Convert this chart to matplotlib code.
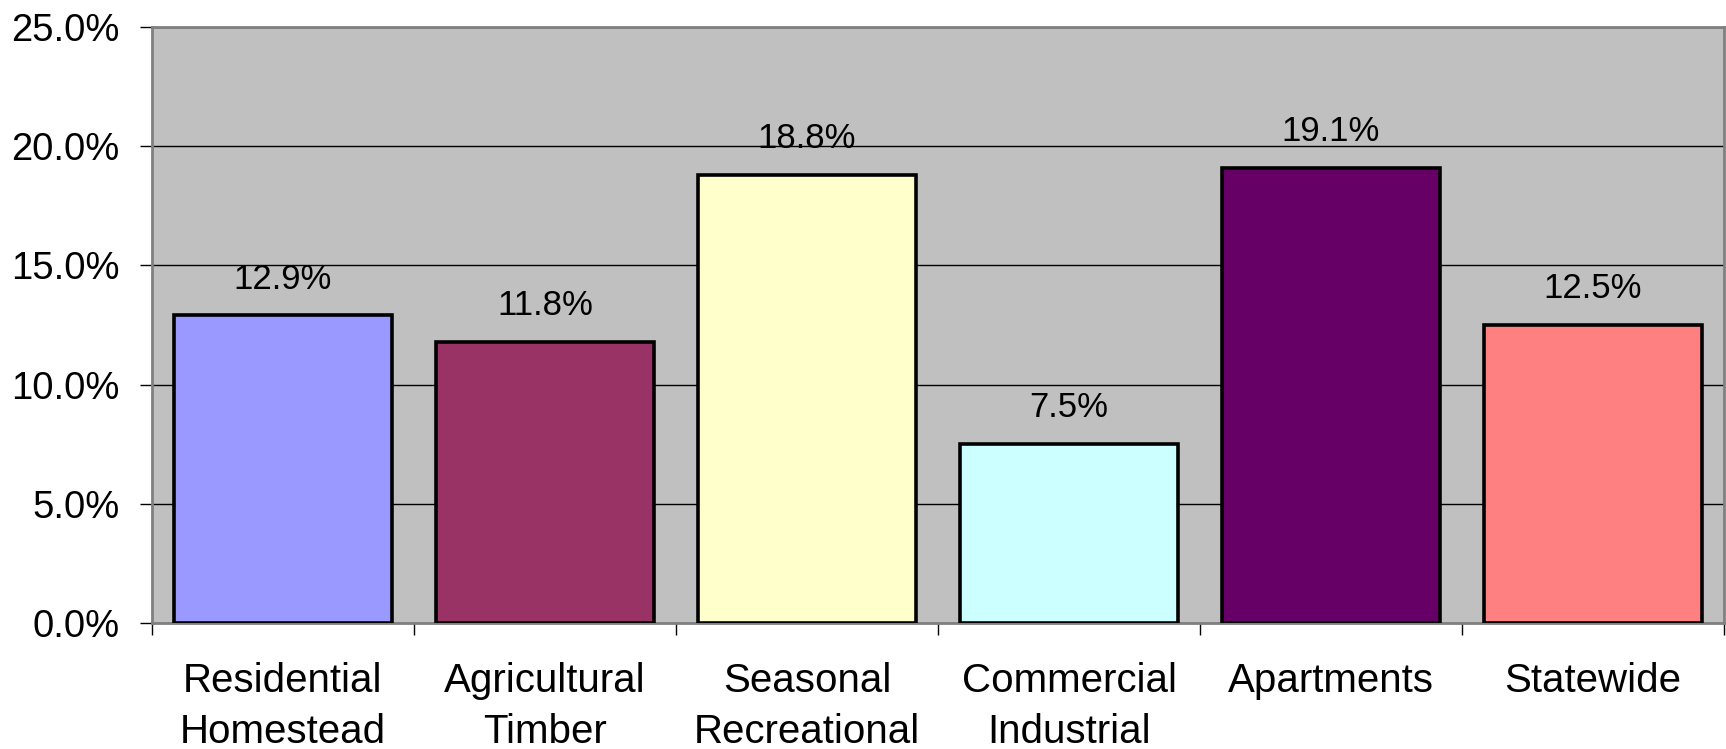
import matplotlib.pyplot as plt
import numpy as np

# Datos
categorias = ['Residential\nHomestead', 'Agricultural\nTimber', 'Seasonal\nRecreational',
              'Commercial\nIndustrial', 'Apartments', 'Statewide']
valores = [12.9, 11.8, 18.8, 7.5, 19.1, 12.5]
colores = ['#9999FF', '#993366', '#FFFFCC', '#CCFFFF', '#660066', '#FF8080']
yticks = [0, 5, 10, 15, 20, 25]

plt.rcParams['font.family'] = ['Liberation Sans', 'DejaVu Sans']

fig = plt.figure(figsize=(17.26, 7.49), dpi=100)
ax = fig.add_axes([152 / 1726, 1 - 623 / 749, 1572 / 1726, 596 / 749])

x = np.arange(len(categorias))
ax.set_facecolor('#C0C0C0')
ax.bar(x, valores, width=0.833, color=colores, edgecolor='black', linewidth=2.6, zorder=3)

# Etiquetas de datos
for xi, v in zip(x, valores):
    ax.annotate(f'{v:.1f}%', (xi, v), xytext=(0, 19.4), textcoords='offset points',
                ha='center', va='baseline', fontsize=25, zorder=4)

ax.set_xlim(-0.5, len(categorias) - 0.5)
ax.set_ylim(0, 25)
ax.set_yticks(yticks)
ax.set_yticklabels([f'{t:.1f}%' for t in yticks])
ax.yaxis.grid(True, color='black', linewidth=1.0, zorder=1)
ax.set_axisbelow(True)

# Ticks del eje x en los limites de categoria
ax.set_xticks(np.arange(-0.5, len(categorias)), minor=False)
ax.set_xticklabels([''] * (len(categorias) + 1))
ax.set_xticks(x, minor=True)
ax.set_xticklabels(categorias, minor=True, fontsize=29, linespacing=1.45)
ax.tick_params(axis='x', which='minor', length=0, pad=28)
ax.tick_params(axis='x', which='major', length=8.6, width=1, color='black')
ax.tick_params(axis='y', length=8.6, width=1, color='black', labelsize=27.5, pad=15)

for s in ax.spines.values():
    s.set_color('#808080')
    s.set_linewidth(2)

plt.savefig('out.png', dpi=100)
